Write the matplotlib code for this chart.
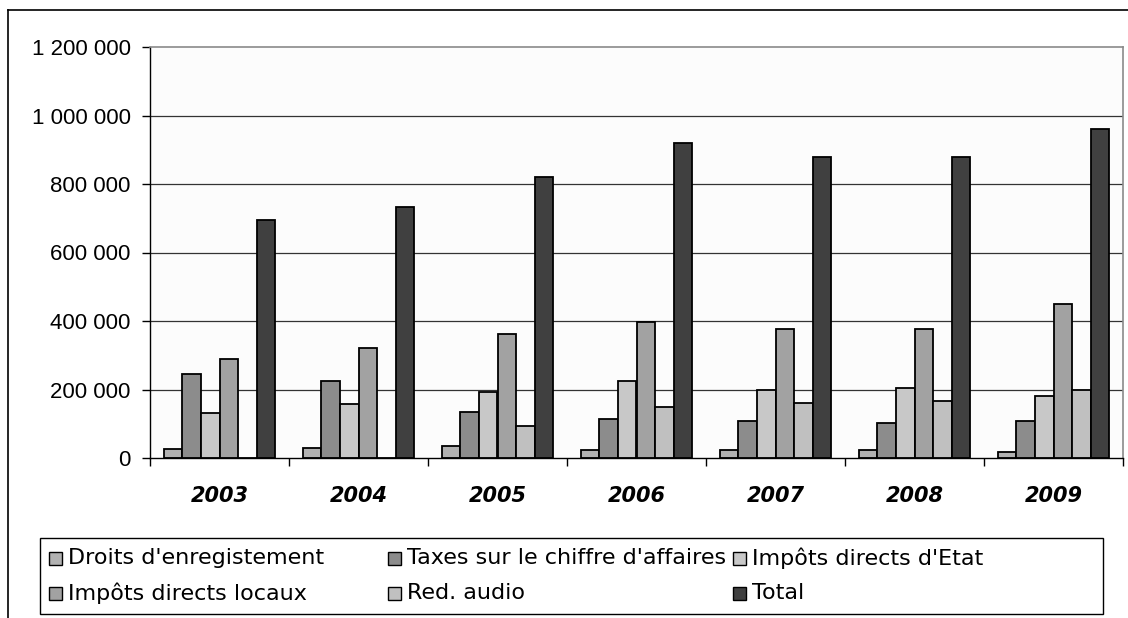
import numpy as np
import matplotlib
matplotlib.use("Agg")
import matplotlib.pyplot as plt
from matplotlib.patches import Rectangle
from matplotlib.lines import Line2D

# Recettes fiscales par catégorie
years = ["2003", "2004", "2005", "2006", "2007", "2008", "2009"]
droits_enregistrement = [25000, 30000, 36000, 24000, 24000, 24000, 18500]
taxes_chiffre_affaires = [244000, 225000, 135000, 115000, 109000, 103000, 109000]
impots_directs_etat = [130000, 157000, 192000, 225000, 198000, 204000, 182000]
impots_directs_locaux = [288000, 320000, 361000, 397000, 377000, 377000, 450000]
red_audio = [0, 0, 93000, 150000, 161000, 166000, 198000]
total = [695000, 733000, 820000, 920000, 878000, 878000, 962000]

series_names = ["Droits d'enregistement", "Taxes sur le chiffre d'affaires",
                "Impôts directs d'Etat", "Impôts directs locaux",
                "Red. audio", "Total"]
series_values = [droits_enregistrement, taxes_chiffre_affaires,
                 impots_directs_etat, impots_directs_locaux, red_audio, total]
series_colors = ["#b2b2b2", "#8c8c8c", "#c8c8c8", "#a2a2a2", "#c0c0c0", "#404040"]

y_ticks = [0, 200000, 400000, 600000, 800000, 1000000, 1200000]
y_tick_labels = ["0", "200 000", "400 000", "600 000", "800 000",
                 "1 000 000", "1 200 000"]

W, H = 1128, 618
fig = plt.figure(figsize=(W / 100, H / 100), dpi=100)
fig.patch.set_facecolor("white")


def fx(x):
    return x / W


def fy(y):
    return 1 - y / H


# Plot area
left, right, top, bottom = 150, 1123, 47, 458
ax = fig.add_axes([fx(left), fy(bottom), fx(right - left), fy(top) - fy(bottom)])
ax.set_facecolor("#fcfcfc")

n_groups = len(years)
n_series = len(series_values)
width = 0.8 / n_series
x = np.arange(n_groups) + 0.5
for k, (vals, color) in enumerate(zip(series_values, series_colors)):
    offs = (k - (n_series - 1) / 2) * width
    ax.bar(x + offs, vals, width=width, color=color, edgecolor="black",
           linewidth=1.3, zorder=3)

ax.set_xlim(0, n_groups)
ax.set_ylim(0, 1200000)

# Gridlines
for v in y_ticks[1:-1]:
    ax.axhline(v, color="#333333", linewidth=0.9, zorder=1)

# Spines
ax.spines["left"].set_color("black")
ax.spines["left"].set_linewidth(1.0)
ax.spines["bottom"].set_color("black")
ax.spines["bottom"].set_linewidth(1.0)
ax.spines["bottom"].set_zorder(4)
ax.spines["top"].set_color("#8a8a8a")
ax.spines["top"].set_linewidth(1.2)
ax.spines["right"].set_color("#8a8a8a")
ax.spines["right"].set_linewidth(1.2)

# Y axis
ax.set_yticks(y_ticks)
ax.set_yticklabels(y_tick_labels, fontfamily="Liberation Sans", fontsize=16)
ax.tick_params(axis="y", direction="out", length=6, width=1.0, pad=8,
               colors="black")

# X axis: ticks at group boundaries, labels centred on groups
ax.set_xticks(np.arange(n_groups + 1))
ax.set_xticklabels([])
ax.tick_params(axis="x", which="major", direction="out", length=6, width=1.0)
ax.set_xticks(x, minor=True)
ax.set_xticklabels(years, minor=True, fontfamily="DejaVu Sans",
                   fontweight="bold", fontstyle="oblique", fontsize=15)
ax.tick_params(axis="x", which="minor", length=0, pad=20)

# Outer chart frame (top and left edges)
fig.add_artist(Line2D([fx(8), 1], [fy(10), fy(10)], transform=fig.transFigure,
                      color="black", linewidth=1.2))
fig.add_artist(Line2D([fx(8), fx(8)], [fy(10), 0], transform=fig.transFigure,
                      color="black", linewidth=1.2))

# Legend box
lx0, lx1, ly0, ly1 = 40, 1103, 538, 614
fig.add_artist(Rectangle((fx(lx0), fy(ly1)), fx(lx1 - lx0), fy(ly0) - fy(ly1),
                         transform=fig.transFigure, facecolor="white",
                         edgecolor="black", linewidth=1.0))
col_x = [49, 388, 733]
row_y = [558, 593]
order = [(0, 0), (1, 0), (2, 0), (0, 1), (1, 1), (2, 1)]
sq = 13
for k, (c, r) in enumerate(order):
    px, py = col_x[c], row_y[r]
    fig.add_artist(Rectangle((fx(px), fy(py + sq / 2)), fx(sq), sq / H,
                             transform=fig.transFigure,
                             facecolor=series_colors[k], edgecolor="black",
                             linewidth=1.0))
    fig.text(fx(px + sq + 6), fy(py), series_names[k], fontfamily="DejaVu Sans",
             fontsize=16, va="center", ha="left")

fig.savefig("out.png", dpi=100)
